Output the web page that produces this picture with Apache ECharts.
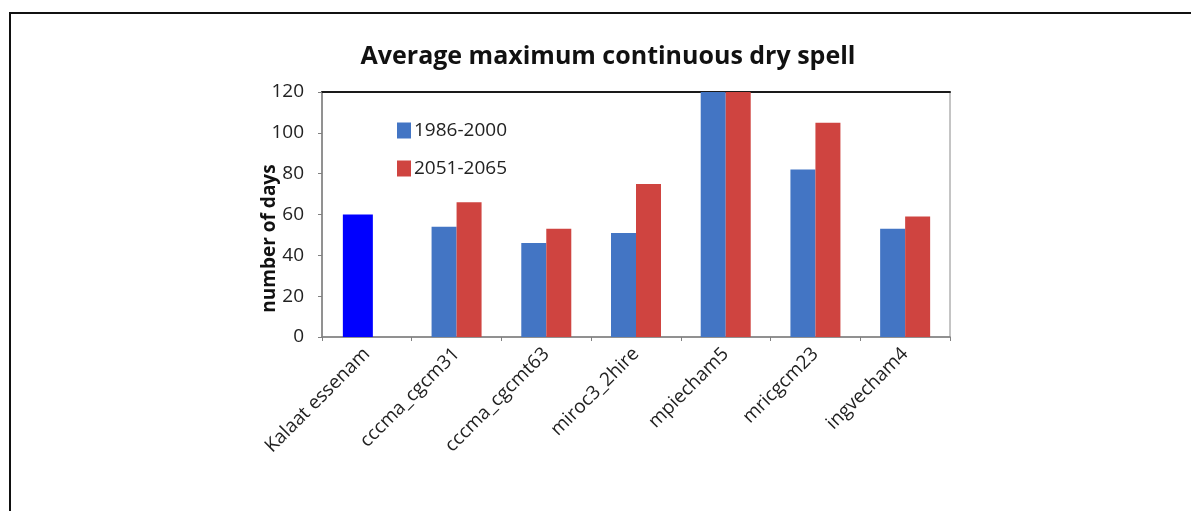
<!DOCTYPE html>
<html>
<head>
<meta charset="utf-8">
<script src="https://cdn.jsdelivr.net/npm/echarts@6/dist/echarts.min.js"></script>
<style>
  html, body { margin: 0; padding: 0; background: #fff; }
  #chart { width: 1191px; height: 511px; }
</style>
</head>
<body>
<div id="chart"></div>
<script>
// Categories along the x axis
const categories = ['Kalaat essenam', 'cccma_cgcm31', 'cccma_cgcmt63', 'miroc3_2hire', 'mpiecham5', 'mricgcm23', 'ingvecham4'];
// Observed station value (only the first category)
const observed = [60, '-', '-', '-', '-', '-', '-'];
// Model runs, baseline period
const period1986 = ['-', 54, 46, 51, 120, 82, 53];
// Model runs, future period
const period2051 = ['-', 66, 53, 75, 120, 105, 59];
// Y axis ticks
const yTicks = { min: 0, max: 120, interval: 20 };

const FONT = '"Open Sans", "Liberation Sans", sans-serif';
const chart = echarts.init(document.getElementById('chart'), null, { renderer: 'canvas' });

chart.setOption({
  backgroundColor: '#ffffff',
  animation: false,
  title: {
    text: 'Average maximum continuous dry spell',
    left: 603,
    textAlign: 'center',
    top: 39,
    textStyle: { fontFamily: FONT, fontWeight: 'bold', fontSize: 25, color: '#111' }
  },
  legend: {
    orient: 'vertical',
    left: 392,
    top: 116,
    itemGap: 19,
    itemWidth: 14,
    itemHeight: 16,
    icon: 'rect',
    data: ['1986-2000', '2051-2065'],
    textStyle: { fontFamily: FONT, fontSize: 19, color: '#222', padding: [0, 0, 0, -2] }
  },
  grid: { left: 322, right: 241, top: 92, bottom: 174, show: true, borderColor: '#8a8a8a', borderWidth: 1 },
  xAxis: [
    {
      type: 'category',
      data: categories,
      axisLine: { lineStyle: { color: '#808080', width: 1.5 } },
      axisTick: { show: true, length: 4, lineStyle: { color: '#808080' } },
      axisLabel: { rotate: 45, margin: 14, fontFamily: FONT, fontSize: 19, color: '#222', interval: 0 }
    },
    {
      type: 'category',
      data: categories,
      position: 'top',
      axisLine: { show: true, lineStyle: { color: '#1a1a1a', width: 2 } },
      axisTick: { show: false },
      axisLabel: { show: false }
    }
  ],
  yAxis: {
    type: 'value',
    min: yTicks.min,
    max: yTicks.max,
    interval: yTicks.interval,
    name: 'number of days',
    nameLocation: 'middle',
    nameGap: 43,
    nameMoveOverlap: false,
    nameTextStyle: { fontFamily: FONT, fontWeight: 'bold', fontSize: 19, color: '#111', padding: [0, 0, 0, -48] },
    axisLine: { show: true, lineStyle: { color: '#808080', width: 1.5 } },
    axisTick: { show: true, inside: false, length: 4, lineStyle: { color: '#808080' } },
    axisLabel: { margin: 18, fontFamily: FONT, fontSize: 19, color: '#222' },
    splitLine: { show: false }
  },
  series: [
    {
      name: '1986-2000',
      type: 'bar',
      xAxisIndex: 0,
      data: period1986,
      barWidth: 25,
      barGap: '0%',
      itemStyle: { color: '#4375c4' }
    },
    {
      name: '2051-2065',
      type: 'bar',
      xAxisIndex: 0,
      data: period2051,
      barWidth: 25,
      barGap: '0%',
      itemStyle: { color: '#cf4440' }
    },
    {
      name: 'Kalaat essenam',
      type: 'bar',
      xAxisIndex: 1,
      data: observed,
      barWidth: 30,
      barGap: '0%',
      itemStyle: { color: '#0000ff' }
    },
    {
      // empty companion slot so the station bar sits left of the category centre
      name: 'spacer',
      type: 'bar',
      xAxisIndex: 1,
      data: categories.map(() => '-'),
      barWidth: 18,
      barGap: '0%',
      itemStyle: { color: 'transparent' }
    }
  ],
  graphic: [
    {
      type: 'polyline',
      shape: { points: [[10, 511], [10, 13], [1191, 13]] },
      style: { stroke: '#111', lineWidth: 2, fill: null }
    }
  ]
});
</script>
</body>
</html>
